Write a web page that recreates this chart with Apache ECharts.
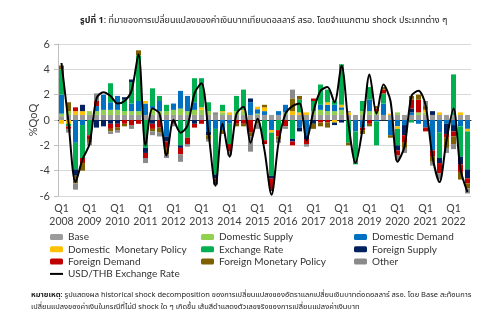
<!DOCTYPE html>
<html>
<head>
<meta charset="utf-8">
<script src="https://cdn.jsdelivr.net/npm/echarts@6/dist/echarts.min.js"></script>
<style>
  html, body { margin: 0; padding: 0; background: #fff; }
  #chart { width: 500px; height: 324px; }
</style>
</head>
<body>
<div id="chart"></div>
<script>
// Quarterly periods, 2008Q1 - 2022Q3
const periods = [
  'Q1 2008','Q2 2008','Q3 2008','Q4 2008','Q1 2009','Q2 2009','Q3 2009','Q4 2009',
  'Q1 2010','Q2 2010','Q3 2010','Q4 2010','Q1 2011','Q2 2011','Q3 2011','Q4 2011',
  'Q1 2012','Q2 2012','Q3 2012','Q4 2012','Q1 2013','Q2 2013','Q3 2013','Q4 2013',
  'Q1 2014','Q2 2014','Q3 2014','Q4 2014','Q1 2015','Q2 2015','Q3 2015','Q4 2015',
  'Q1 2016','Q2 2016','Q3 2016','Q4 2016','Q1 2017','Q2 2017','Q3 2017','Q4 2017',
  'Q1 2018','Q2 2018','Q3 2018','Q4 2018','Q1 2019','Q2 2019','Q3 2019','Q4 2019',
  'Q1 2020','Q2 2020','Q3 2020','Q4 2020','Q1 2021','Q2 2021','Q3 2021','Q4 2021',
  'Q1 2022','Q2 2022','Q3 2022'
];

// Shock contributions, %QoQ
const base = [0.3,0.4,0.4,0.4,0.4,0.4,0.4,0.4,0.4,0.4,0.4,0.4,0.4,0.4,0.4,0.4,0.4,0.4,0.4,0.4,0.4,0.4,0.4,0.4,0.4,0.4,0.4,0.4,0.4,0.4,0.4,0.4,0.4,0.4,0.4,0.4,0.4,0.4,0.4,0.4,0.4,0.4,0.4,0.4,0.4,0.4,0.4,0.4,0.4,0.4,0.4,0.4,0.4,0.4,0.4,0.4,0.4,0.4,0.4];
const domesticSupply = [0.2,0.3,0,0,0.3,0.3,0.4,0.4,0.4,0.3,0.3,0.3,0,0.5,0.3,0.3,0.4,0.5,0.3,0.4,0.4,0.3,0,0.2,0,0.3,0.3,0,0.1,0,0,0,0.2,0,0,0,0.3,0.4,0.3,0.3,0.4,0,0,0.3,0.3,0.3,0,0,0.2,0,0,0.2,0.2,0,0,0,0,0,0];
const domesticDemand = [1.5,0,-1.8,-0.4,0,0.4,1.2,0.6,1.1,0,0.6,0.8,0.9,0.2,0.8,-1.3,0.5,1.4,1.2,0.6,0,-0.9,-0.7,-0.8,-0.3,0,0,1.0,0.35,0.3,-0.8,0.3,0.6,0,-0.6,-1.2,0,0.4,0.5,0.5,0.2,0,-0.9,-0.6,0.9,-0.1,0.9,-1.2,-0.5,-0.4,0.2,-0.3,-0.6,-2.4,-1.0,-0.3,-0.4,-0.5,-0.7];
const domesticMonetary = [-0.3,-0.3,0.3,0.3,0,0,0,0,0,0,0,0,0.2,0,0,0,0,0,0,0,0.2,0,0,0.1,0.2,0,0.1,0,0.2,0.3,-0.2,0,0,0.3,0.2,0.2,0,0,0.2,-0.2,0.2,0.2,0,0,0,0,0,0.1,-0.2,0,0,0,0.2,0,0.2,0,0,0.2,-0.2];
const exchangeRate = [2.0,-0.2,-2.1,-2.6,-1.2,0,0,1.5,0,0.9,1.7,3.6,-2.2,1.4,0.4,0.5,0,-2.0,-1.4,1.9,2.3,0.7,-3.6,0.5,-1.6,1.2,1.6,0,0,-1.6,-3.4,-0.8,0,-1.5,1.0,0,0.8,1.6,1.0,0.3,3.2,-1.8,-2.6,0.8,1.0,-1.9,0.8,0,-1.3,0,-0.2,0,0,0,-2.0,0,3.2,-2.4,-3.0];
const foreignSupply = [0,0,-0.5,0.5,0,-0.6,-0.5,-0.3,-0.3,0.2,0.2,0,-0.4,-0.3,0,-0.4,0,-0.2,0,-0.3,0,-0.3,-0.3,0,0,0,0,0.3,0,0,-0.2,0,0,-0.2,-0.3,-0.3,-0.3,0,0,-0.2,-0.2,0,0,0,0,0,0,0,-0.4,-0.8,0.3,0,0,0.3,-0.4,-0.8,-0.5,-0.6,-0.7];
const foreignDemand = [0,-0.2,0.3,-0.4,-0.3,0.4,0,-0.4,-0.3,-0.3,-0.4,-0.3,-0.4,-0.4,-0.6,-0.5,-0.3,-0.5,-0.5,-0.3,-0.3,0,-0.5,0,-0.6,-0.3,-0.3,-1.0,0,-0.3,-1.0,-0.5,-0.5,-0.3,0,-0.4,0.2,-0.2,-0.2,0,0,0,0,-0.2,-0.3,0.2,0.3,0,-0.4,-0.6,0.7,1.0,-0.3,-0.5,-0.8,-0.3,-0.4,-0.6,-0.4];
const foreignMonetary = [0.3,0.7,-0.6,-0.6,-0.3,0,0,-0.2,-0.2,-0.2,0,0.4,0,-0.2,-0.4,-0.5,0,0,0,0,0,-0.3,0,-0.3,0,-0.2,-0.2,-0.3,-0.3,0.2,0,-0.2,0,1.0,0.3,0,-0.4,-0.3,-0.4,0,0,-0.2,0,-0.3,-0.2,0.2,0.2,-0.2,0,-0.4,0.3,0.4,0.3,-0.4,0,-0.8,-0.6,-0.6,-0.4];
const other = [0,-0.3,-0.5,0,-0.2,0.6,0,-0.2,-0.2,0,-0.3,0,-0.4,-0.3,-0.3,-0.3,-0.2,-0.6,-0.2,0,0,-0.2,0.2,0,-0.3,0,0,-1.2,-0.4,0,0,-0.3,-0.2,0.7,0,-0.2,0,0,0,0,0,0.1,0,0,0,0,0,0,-0.4,-0.4,0,0,0.4,-0.3,-0.5,-0.4,-0.4,0,-0.4];

// Actual USD/THB change, %QoQ
const usdThb = [4.5,-0.2,-4.9,-3.1,-1.9,1.7,2.2,1.9,1.3,1.5,2.3,5.2,-2.0,0.9,0.5,-2.8,0.0,-1.0,-0.45,2.1,2.9,-1.0,-5.2,-0.3,-2.9,0.5,1.05,-1.8,0.1,-2.4,-5.9,-1.8,0.5,1.1,1.3,-1.6,0.7,2.3,2.6,1.4,4.3,-0.3,-3.4,-0.7,3.6,0.5,2.8,1.5,-3.3,-2.1,1.9,2.3,1.2,-2.9,-4.9,-1.6,0.9,-3.9,-5.7];

const yTicks = { min: -6, max: 6, step: 2 };

const shockSeries = [
  { name: 'Base', data: base, color: '#9b9b9b' },
  { name: 'Domestic Supply', data: domesticSupply, color: '#92d050' },
  { name: 'Domestic Demand', data: domesticDemand, color: '#0070c0' },
  { name: 'Domestic  Monetary Policy', data: domesticMonetary, color: '#ffc000' },
  { name: 'Exchange Rate', data: exchangeRate, color: '#00b050' },
  { name: 'Foreign Supply', data: foreignSupply, color: '#002060' },
  { name: 'Foreign Demand', data: foreignDemand, color: '#c00000' },
  { name: 'Foreign Monetary Policy', data: foreignMonetary, color: '#7f6000' },
  { name: 'Other', data: other, color: '#8a8a8a' }
];

const FONT = 'Lato, "Noto Sans", sans-serif';
const THAI = '"Noto Sans Thai", "Noto Sans", sans-serif';

const legendBase = {
  orient: 'vertical',
  top: 226,
  itemWidth: 13,
  itemHeight: 6,
  itemGap: 0.3,
  textStyle: { fontFamily: FONT, fontSize: 10, color: '#333', lineHeight: 12 }
};

const chart = echarts.init(document.getElementById('chart'), null, { renderer: 'canvas' });

chart.setOption({
  animation: false,
  backgroundColor: '#ffffff',
  title: [
    {
      text: '{b|รูปที่ 1}: ที่มาของการเปลี่ยนแปลงของค่าเงินบาทเทียบดอลลาร์ สรอ. โดยจำแนกตาม shock ประเภทต่าง ๆ',
      left: 75, top: 12,
      textStyle: {
        fontFamily: THAI, fontSize: 9, fontWeight: 'normal', color: '#222',
        rich: { b: { fontFamily: THAI, fontSize: 9, fontWeight: 'bold', color: '#222' } }
      }
    },
    {
      text: '{b|หมายเหตุ}: รูปแสดงผล historical shock decomposition ของการเปลี่ยนแปลงของอัตราแลกเปลี่ยนเงินบาทต่อดอลลาร์ สรอ. โดย Base สะท้อนการ\nเปลี่ยนแปลงของค่าเงินในกรณีที่ไม่มี shock ใด ๆ เกิดขึ้น เส้นสีดำแสดงตัวเลขจริงของการเปลี่ยนแปลงค่าเงินบาท',
      left: 26, top: 284,
      textStyle: {
        fontFamily: THAI, fontSize: 7.5, fontWeight: 'normal', color: '#222', lineHeight: 12.5,
        rich: { b: { fontFamily: THAI, fontSize: 7.5, fontWeight: 'bold', color: '#222', lineHeight: 12.5 } }
      }
    }
  ],
  legend: [
    Object.assign({}, legendBase, {
      left: 44,
      data: ['Base', 'Domestic  Monetary Policy', 'Foreign Demand',
        { name: 'USD/THB Exchange Rate', itemStyle: { opacity: 0 } }]
    }),
    Object.assign({}, legendBase, {
      left: 196,
      data: ['Domestic Supply', 'Exchange Rate', 'Foreign Monetary Policy']
    }),
    Object.assign({}, legendBase, {
      left: 349,
      data: ['Domestic Demand', 'Foreign Supply', 'Other']
    })
  ],
  grid: { left: 58, right: 29, top: 44, bottom: 128, containLabel: false, outerBoundsMode: 'none' },
  xAxis: [
    {
      type: 'category',
      data: periods,
      axisLine: { show: false, onZero: false },
      axisTick: { show: false },
      axisLabel: {
        interval: 3,
        margin: 6,
        fontFamily: FONT, fontSize: 10.5, color: '#404040', lineHeight: 13,
        formatter: v => v.replace(' ', '\n')
      },
      splitLine: { show: false }
    },
    {
      type: 'category',
      data: periods,
      position: 'bottom',
      axisLine: { show: true, onZero: true, lineStyle: { color: '#1f2a3a', width: 1 } },
      axisTick: { show: false },
      axisLabel: { show: false },
      splitLine: { show: false }
    }
  ],
  yAxis: {
    type: 'value',
    min: yTicks.min, max: yTicks.max, interval: yTicks.step,
    name: '%QoQ',
    nameLocation: 'middle',
    nameGap: 19,
    nameMoveOverlap: false,
    nameRotate: 90,
    nameTextStyle: { fontFamily: FONT, fontSize: 11, color: '#404040' },
    axisLine: { show: true, lineStyle: { color: '#bfbfbf' } },
    axisTick: { show: true, length: 4, lineStyle: { color: '#bfbfbf' } },
    axisLabel: { fontFamily: FONT, fontSize: 11, color: '#404040', margin: 8 },
    splitLine: { lineStyle: { color: '#d9d9d9', width: 1 } }
  },
  series: shockSeries.map(s => ({
    name: s.name,
    type: 'bar',
    stack: 'shocks',
    barWidth: 5,
    legendIcon: 'rect',
    itemStyle: { color: s.color },
    data: s.data
  })).concat([{
    name: 'USD/THB Exchange Rate',
    type: 'line',
    data: usdThb,
    smooth: 0.3,
    symbol: 'none',
    z: 10,
    itemStyle: { color: '#000' },
    lineStyle: { color: '#000', width: 2 }
  }])
});
</script>
</body>
</html>
